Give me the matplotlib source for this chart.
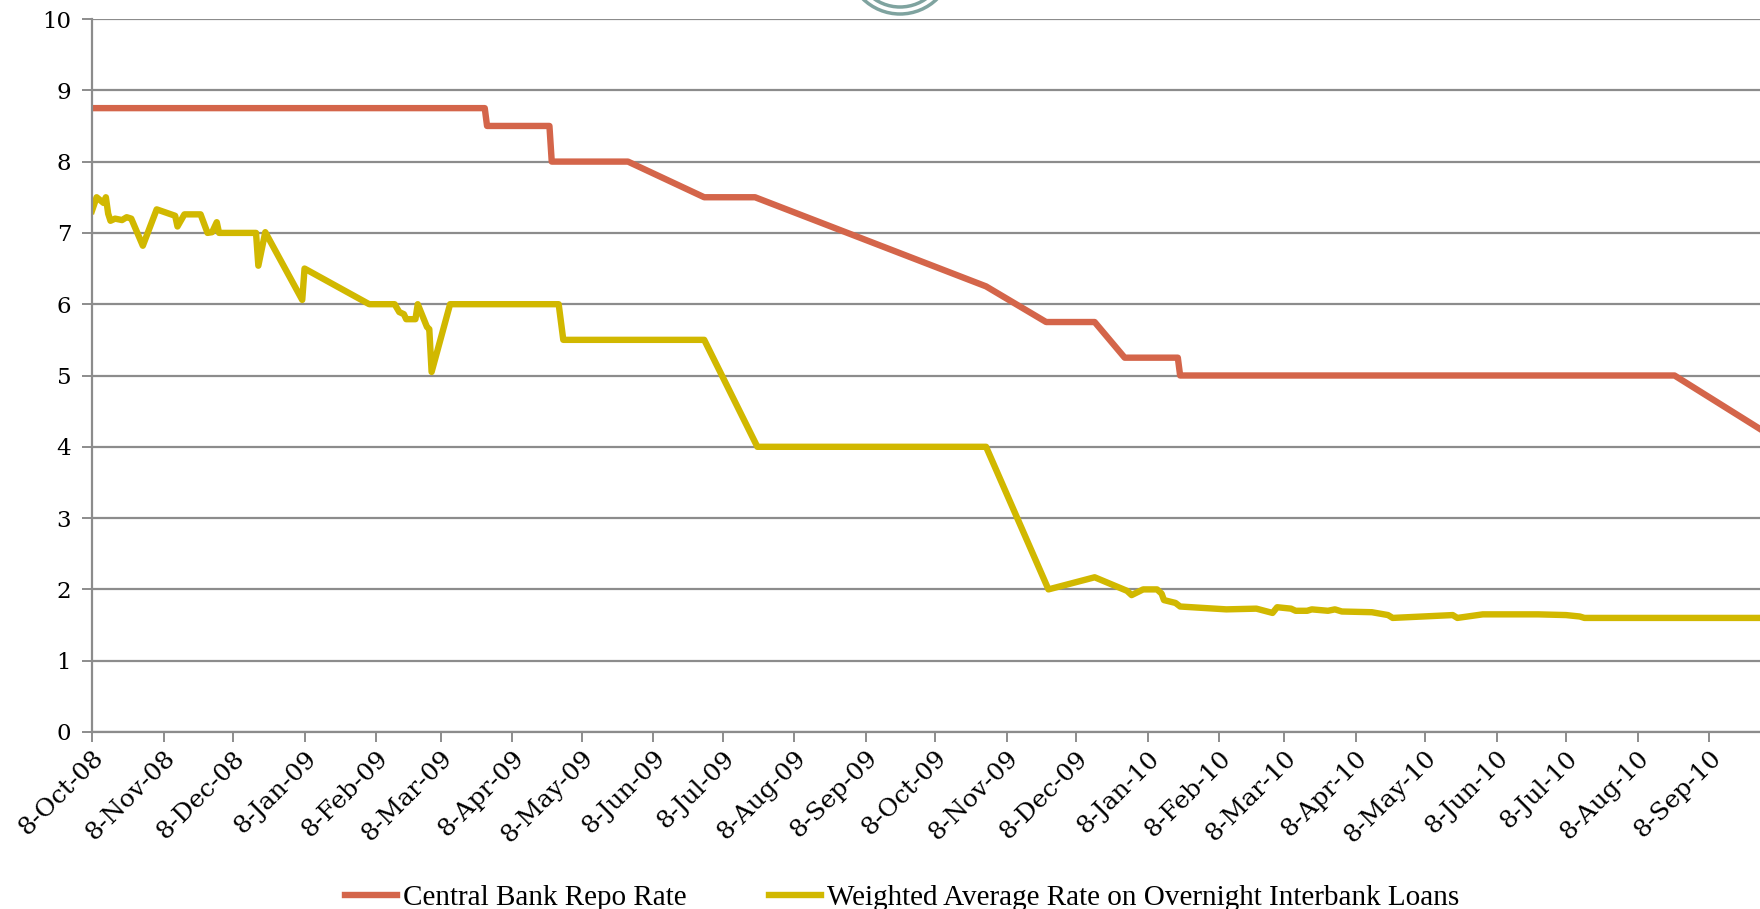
import matplotlib
matplotlib.use("Agg")
import matplotlib.pyplot as plt
import matplotlib.dates as mdates
from matplotlib.patches import Circle
import pandas as pd

# repo rate (policy rate), %
repo_dates = ["2008-10-08", "2009-03-27", "2009-03-28", "2009-04-24", "2009-04-25",
              "2009-05-28", "2009-06-30", "2009-07-22", "2009-10-30", "2009-11-25",
              "2009-12-16", "2009-12-29", "2010-01-21", "2010-01-22", "2010-08-24",
              "2010-09-30"]
repo_rate = [8.75, 8.75, 8.5, 8.5, 8.0,
             8.0, 7.5, 7.5, 6.25, 5.75,
             5.75, 5.25, 5.25, 5.0, 5.0,
             4.25]

# weighted average overnight interbank rate, %
ib_dates = ["2008-10-08", "2008-10-10", "2008-10-13", "2008-10-14", "2008-10-15",
            "2008-10-16", "2008-10-18", "2008-10-21", "2008-10-23", "2008-10-25",
            "2008-10-30", "2008-11-05", "2008-11-13", "2008-11-14", "2008-11-17",
            "2008-11-24", "2008-11-27", "2008-11-29", "2008-12-01", "2008-12-02",
            "2008-12-18", "2008-12-19", "2008-12-22", "2009-01-07", "2009-01-08",
            "2009-02-05", "2009-02-16", "2009-02-18", "2009-02-20", "2009-02-21",
            "2009-02-25", "2009-02-26", "2009-03-02", "2009-03-03", "2009-03-04",
            "2009-03-12", "2009-04-28", "2009-04-30", "2009-06-30", "2009-07-23",
            "2009-10-30", "2009-11-26", "2009-12-16", "2009-12-30", "2010-01-01",
            "2010-01-06", "2010-01-12", "2010-01-14", "2010-01-15", "2010-01-20",
            "2010-01-22", "2010-02-11", "2010-02-24", "2010-03-03", "2010-03-05",
            "2010-03-11", "2010-03-13", "2010-03-18", "2010-03-20", "2010-03-27",
            "2010-03-30", "2010-04-02", "2010-04-15", "2010-04-22", "2010-04-24",
            "2010-05-20", "2010-05-22", "2010-06-02", "2010-06-26", "2010-07-08",
            "2010-07-14", "2010-07-16", "2010-09-30"]
ib_rate = [7.31, 7.50, 7.42, 7.50, 7.27,
           7.17, 7.20, 7.18, 7.22, 7.20,
           6.82, 7.33, 7.24, 7.09, 7.26,
           7.26, 7.00, 7.01, 7.15, 7.00,
           7.00, 6.54, 7.01, 6.06, 6.50,
           6.00, 6.00, 5.89, 5.86, 5.79,
           5.79, 6.00, 5.68, 5.65, 5.05,
           6.00, 6.00, 5.50, 5.50, 4.00,
           4.00, 2.00, 2.17, 1.98, 1.92,
           2.00, 2.00, 1.94, 1.85, 1.81,
           1.76, 1.72, 1.73, 1.67, 1.75,
           1.73, 1.70, 1.70, 1.72, 1.70,
           1.72, 1.69, 1.68, 1.64, 1.60,
           1.64, 1.60, 1.65, 1.65, 1.64,
           1.62, 1.60, 1.60]

labels = ["Central Bank Repo Rate", "Weighted Average Rate on Overnight Interbank Loans"]

RED = "#D4654A"
YELLOW = "#D1B800"
GRID = "#8C8C8C"

fig = plt.figure(figsize=(17.6, 9.09), dpi=100)
ax = fig.add_axes([92 / 1760, 1 - 732 / 909, 1 - 92 / 1760, (732 - 19) / 909])

ax.plot(pd.to_datetime(repo_dates), repo_rate, color=RED, lw=4.6,
        solid_joinstyle="round", label=labels[0])
ax.plot(pd.to_datetime(ib_dates), ib_rate, color=YELLOW, lw=4.6,
        solid_joinstyle="round", label=labels[1])

ax.set_xlim(pd.Timestamp("2008-10-08"), pd.Timestamp("2010-09-30"))
ax.set_ylim(0, 10)
ax.set_yticks(range(0, 11))

ax.xaxis.set_major_locator(mdates.MonthLocator(bymonthday=8))
ax.xaxis.set_major_formatter(mdates.DateFormatter("%-d-%b-%y"))

ax.grid(axis="y", color=GRID, lw=1.6)
ax.set_axisbelow(True)
for s in ["top", "right"]:
    ax.spines[s].set_visible(False)
for s in ["left", "bottom"]:
    ax.spines[s].set_color(GRID)
    ax.spines[s].set_linewidth(1.6)

ax.tick_params(axis="both", colors=GRID, width=1.4, length=7, direction="out")
ax.tick_params(axis="y", pad=8)
for lab in ax.get_yticklabels():
    lab.set_family("DejaVu Serif")
    lab.set_fontsize(16.5)
    lab.set_color("black")
for lab in ax.get_xticklabels():
    lab.set_family("DejaVu Serif")
    lab.set_fontsize(18)
    lab.set_color("black")
    lab.set_rotation(45)
    lab.set_ha("right")
    lab.set_rotation_mode("anchor")

leg = fig.legend(loc="center", bbox_to_anchor=(0.5125, 0.012), ncol=2, frameon=False,
                 prop={"family": "Liberation Serif", "size": 21},
                 handlelength=1.8, handletextpad=0.2, columnspacing=2.8)

# logo ring peeking in at the top edge
ov = fig.add_axes([0, 0, 1, 1], zorder=-1)
ov.set_xlim(0, 1760)
ov.set_ylim(909, 0)
ov.axis("off")
ov.add_patch(Circle((900, -39), 53, fill=False, ec="#7FA39F", lw=2.5))
ov.add_patch(Circle((900, -38), 45, fill=False, ec="#7FA39F", lw=2.5))

fig.savefig("out.png", dpi=100)
